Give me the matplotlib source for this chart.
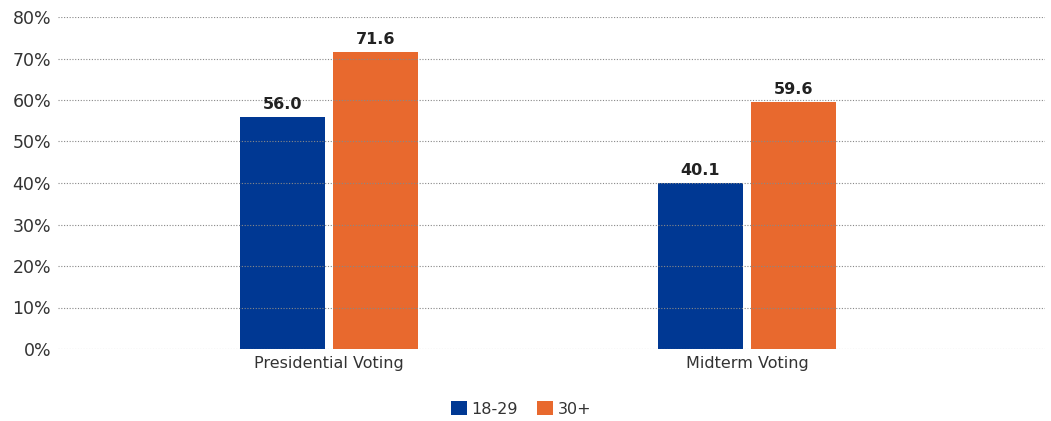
import matplotlib.pyplot as plt
import numpy as np

categories = ['Presidential Voting', 'Midterm Voting']
groups = ['18-29', '30+']
young = [56.0, 40.1]
older = [71.6, 59.6]
colors = ['#003893', '#E8692E']

plt.rcParams['font.family'] = ['DejaVu Sans']

fig = plt.figure(figsize=(10.51, 4.21), dpi=100)
ax = fig.add_axes([58 / 1051, 1 - 349 / 421, (1045 - 58) / 1051, (349 - 17) / 421])

x = np.arange(len(categories))
w = 0.203
off = 0.111
b1 = ax.bar(x - off, young, w, color=colors[0], label=groups[0], zorder=1)
b2 = ax.bar(x + off, older, w, color=colors[1], label=groups[1], zorder=1)

for bars, vals in [(b1, young), (b2, older)]:
    for b, v in zip(bars, vals):
        ax.text(b.get_x() + b.get_width() / 2, v + 1.1, f'{v:.1f}', ha='center', va='bottom',
                fontsize=11.5, fontweight='bold', color='#222222')

ax.set_ylim(0, 80)
ax.set_xlim(-0.648, 1.713)
ax.set_yticks(range(0, 81, 10))
ax.set_yticklabels([f'{t}%' for t in range(0, 81, 10)])
ax.set_xticks(x)
ax.set_xticklabels(categories)
ax.yaxis.grid(True, linestyle=(0, (1, 1.5)), color='#888888', linewidth=0.8, zorder=2)
ax.set_axisbelow(False)
for s in ax.spines.values():
    s.set_visible(False)
ax.tick_params(axis='y', length=0, labelsize=12.5, labelcolor='#333333', pad=5)
ax.tick_params(axis='x', length=0, labelsize=11.5, labelcolor='#333333', pad=5)

fig.legend(loc='center', bbox_to_anchor=(521 / 1051, 1 - 409 / 421), ncol=2, frameon=False,
           fontsize=11.5, handlelength=1.0, handleheight=1.0, handletextpad=0.3, columnspacing=1.2,
           labelcolor='#333333')

fig.savefig('out.png', dpi=100)
